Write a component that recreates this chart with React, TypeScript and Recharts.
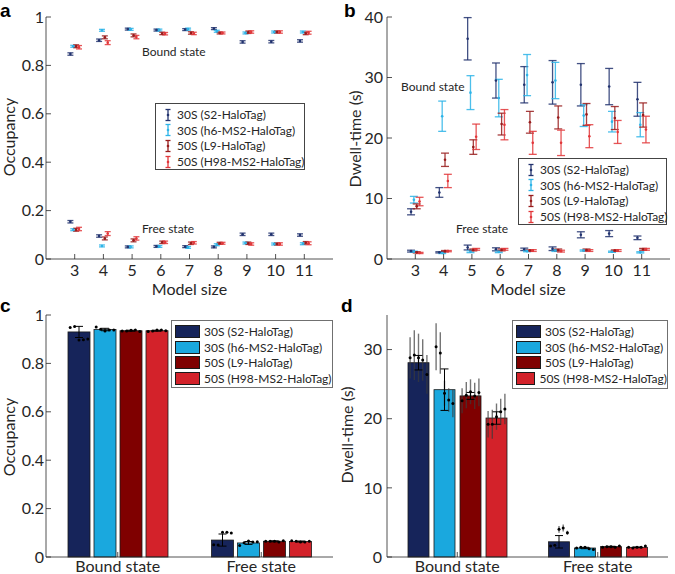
import React from 'react';
import { ScatterChart, Scatter, BarChart, Bar, XAxis, YAxis, ErrorBar } from 'recharts';

const FONT = 'Lato, "Open Sans", sans-serif';
const INK = '#262626';

const MODEL_SIZES = [3, 4, 5, 6, 7, 8, 9, 10, 11];
const STATES = ['Bound state', 'Free state'];
const SERIES_NAMES = ['30S (S2-HaloTag)', '30S (h6-MS2-HaloTag)', '50S (L9-HaloTag)', '50S (H98-MS2-HaloTag)'];
const POINT_COLORS = ['#22336f', '#2db4e8', '#981c1c', '#e2373a'];
const BAR_COLORS = ['#16245a', '#1aa8de', '#7f0000', '#d3222a'];
const OFFSETS = [-0.15, -0.05, 0.05, 0.15];

// panel a: occupancy per model size
const OCC_BOUND_S2 = [0.847, 0.904, 0.95, 0.946, 0.948, 0.952, 0.897, 0.898, 0.901];
const OCC_BOUND_H6 = [0.879, 0.945, 0.949, 0.946, 0.95, 0.941, 0.934, 0.938, 0.938];
const OCC_BOUND_L9 = [0.879, 0.916, 0.924, 0.932, 0.934, 0.934, 0.937, 0.938, 0.932];
const OCC_BOUND_H98 = [0.875, 0.894, 0.917, 0.931, 0.932, 0.934, 0.938, 0.938, 0.935];
const OCC_FREE_S2 = [0.154, 0.095, 0.05, 0.052, 0.051, 0.05, 0.102, 0.102, 0.099];
const OCC_FREE_H6 = [0.121, 0.054, 0.05, 0.052, 0.048, 0.059, 0.066, 0.062, 0.063];
const OCC_FREE_L9 = [0.121, 0.085, 0.077, 0.069, 0.065, 0.065, 0.065, 0.062, 0.067];
const OCC_FREE_H98 = [0.124, 0.105, 0.085, 0.069, 0.067, 0.065, 0.062, 0.062, 0.065];
const OCC_ERR_S2 = [0.005, 0.005, 0.004, 0.004, 0.004, 0.004, 0.005, 0.005, 0.005];
const OCC_ERR_H6 = [0.004, 0.004, 0.004, 0.004, 0.004, 0.004, 0.004, 0.004, 0.004];
const OCC_ERR_L9 = [0.006, 0.006, 0.006, 0.005, 0.005, 0.004, 0.005, 0.004, 0.005];
const OCC_ERR_H98 = [0.007, 0.008, 0.007, 0.005, 0.005, 0.004, 0.005, 0.005, 0.006];

// panel b: dwell-time per model size (s)
const DWELL_BOUND_S2 = [7.8, 11.0, 36.4, 29.5, 28.8, 29.2, 28.8, 28.5, 26.4];
const DWELL_BOUND_H6 = [9.8, 23.6, 27.5, 26.6, 30.4, 29.5, 23.7, 22.7, 22.2];
const DWELL_BOUND_L9 = [8.7, 16.4, 18.5, 22.3, 22.6, 23.4, 23.9, 23.3, 23.8];
const DWELL_BOUND_H98 = [9.5, 12.9, 20.2, 22.2, 19.2, 19.2, 20.3, 21.0, 21.4];
const DWELL_BOUND_ERR_S2 = [0.5, 0.8, 3.5, 2.9, 3.0, 3.6, 3.5, 3.0, 2.8];
const DWELL_BOUND_ERR_H6 = [0.55, 2.5, 2.8, 3.1, 3.4, 3.0, 1.8, 1.7, 2.0];
const DWELL_BOUND_ERR_L9 = [0.4, 1.1, 1.2, 1.8, 1.8, 1.9, 1.8, 1.9, 2.0];
const DWELL_BOUND_ERR_H98 = [0.7, 1.1, 2.1, 2.5, 1.9, 2.1, 1.9, 1.9, 2.2];
const DWELL_FREE_S2 = [1.3, 1.1, 1.9, 1.6, 1.6, 1.7, 4.0, 4.2, 3.5];
const DWELL_FREE_H6 = [1.2, 1.0, 1.2, 1.2, 1.3, 1.4, 1.4, 1.2, 1.1];
const DWELL_FREE_L9 = [1.1, 1.3, 1.5, 1.5, 1.4, 1.5, 1.5, 1.4, 1.6];
const DWELL_FREE_H98 = [1.0, 1.3, 1.6, 1.6, 1.4, 1.3, 1.4, 1.4, 1.6];
const DWELL_FREE_ERR_S2 = [0.15, 0.1, 0.4, 0.25, 0.2, 0.3, 0.5, 0.5, 0.3];
const DWELL_FREE_ERR_H6 = [0.1, 0.1, 0.15, 0.15, 0.1, 0.15, 0.1, 0.1, 0.1];
const DWELL_FREE_ERR_L9 = [0.1, 0.1, 0.15, 0.15, 0.1, 0.15, 0.15, 0.1, 0.15];
const DWELL_FREE_ERR_H98 = [0.1, 0.1, 0.15, 0.15, 0.15, 0.15, 0.15, 0.15, 0.15];

// panels c, d: averaged bars (Bound, Free)
const OCC_BAR_S2 = [0.93, 0.07];
const OCC_BAR_H6 = [0.94, 0.058];
const OCC_BAR_L9 = [0.935, 0.065];
const OCC_BAR_H98 = [0.935, 0.064];
const OCC_BAR_ERR_S2 = [0.023, 0.025];
const OCC_BAR_ERR_H6 = [0.005, 0.006];
const OCC_BAR_ERR_L9 = [0.002, 0.002];
const OCC_BAR_ERR_H98 = [0.002, 0.002];
const DWELL_BAR_S2 = [28.1, 2.2];
const DWELL_BAR_H6 = [24.2, 1.3];
const DWELL_BAR_L9 = [23.3, 1.5];
const DWELL_BAR_H98 = [20.1, 1.4];
const DWELL_BAR_ERR_S2 = [1.05, 0.9];
const DWELL_BAR_ERR_H6 = [3.0, 0.1];
const DWELL_BAR_ERR_L9 = [0.5, 0.05];
const DWELL_BAR_ERR_H98 = [0.9, 0.05];
const FIRST_AVERAGED = 4; // model sizes 7..11 go into the bars

const OCC_BOUND = [OCC_BOUND_S2, OCC_BOUND_H6, OCC_BOUND_L9, OCC_BOUND_H98];
const OCC_FREE = [OCC_FREE_S2, OCC_FREE_H6, OCC_FREE_L9, OCC_FREE_H98];
const OCC_ERR = [OCC_ERR_S2, OCC_ERR_H6, OCC_ERR_L9, OCC_ERR_H98];
const DWELL_BOUND = [DWELL_BOUND_S2, DWELL_BOUND_H6, DWELL_BOUND_L9, DWELL_BOUND_H98];
const DWELL_BOUND_ERR = [DWELL_BOUND_ERR_S2, DWELL_BOUND_ERR_H6, DWELL_BOUND_ERR_L9, DWELL_BOUND_ERR_H98];
const DWELL_FREE = [DWELL_FREE_S2, DWELL_FREE_H6, DWELL_FREE_L9, DWELL_FREE_H98];
const DWELL_FREE_ERR = [DWELL_FREE_ERR_S2, DWELL_FREE_ERR_H6, DWELL_FREE_ERR_L9, DWELL_FREE_ERR_H98];
const OCC_BAR = [OCC_BAR_S2, OCC_BAR_H6, OCC_BAR_L9, OCC_BAR_H98];
const OCC_BAR_ERR = [OCC_BAR_ERR_S2, OCC_BAR_ERR_H6, OCC_BAR_ERR_L9, OCC_BAR_ERR_H98];
const DWELL_BAR = [DWELL_BAR_S2, DWELL_BAR_H6, DWELL_BAR_L9, DWELL_BAR_H98];
const DWELL_BAR_ERR = [DWELL_BAR_ERR_S2, DWELL_BAR_ERR_H6, DWELL_BAR_ERR_L9, DWELL_BAR_ERR_H98];

const OCC_TICKS = [0, 0.2, 0.4, 0.6, 0.8, 1];
const DWELL_LINE_TICKS = [0, 10, 20, 30, 40];
const DWELL_BAR_TICKS = [0, 10, 20, 30];

const tickStyle = { fill: INK, fontSize: 16, fontFamily: FONT };
const axisLine = { stroke: INK, strokeWidth: 0.8 };

function scatterRows(i: number, bound: number[][], boundErr: number[][], free: number[][], freeErr: number[][]) {
  return MODEL_SIZES.flatMap((m, k) => [
    { x: m + OFFSETS[i], y: bound[i][k], e: boundErr[i][k] },
    { x: m + OFFSETS[i], y: free[i][k], e: freeErr[i][k] },
  ]);
}

function barRows(vals: number[][], errs: number[][]) {
  return STATES.map((s, k) => {
    const row: Record<string, string | number> = { state: s };
    vals.forEach((v, i) => {
      row['v' + i] = v[k];
      row['e' + i] = errs[i][k];
    });
    return row;
  });
}

function ModelPanel({ left, yWidth, rightMargin, ticks, domain, rows, capWidth }: any) {
  return (
    <div style={{ position: 'absolute', left, top: 0 }}>
      <ScatterChart width={340} height={300} margin={{ top: 17, right: rightMargin, bottom: 0, left: 0 }} style={{ fontFamily: FONT }}>
        <XAxis type="number" dataKey="x" domain={[2, 12]} ticks={MODEL_SIZES} height={41} tickSize={-5} tickMargin={11}
          tick={tickStyle} axisLine={axisLine} tickLine={axisLine} interval={0} />
        <XAxis xAxisId="top" orientation="top" type="number" dataKey="x" domain={[2, 12]} ticks={MODEL_SIZES} height={0}
          tickSize={-5} tick={false} axisLine={axisLine} tickLine={axisLine} />
        <YAxis type="number" dataKey="y" domain={domain} ticks={ticks} width={yWidth} tickSize={-5}
          tickMargin={yWidth === 46 ? 7 : 9} tick={tickStyle} axisLine={axisLine} tickLine={axisLine} interval={0} />
        <YAxis yAxisId="right" orientation="right" type="number" dataKey="y" domain={domain} ticks={ticks} width={0}
          tickSize={-5} tick={false} axisLine={axisLine} tickLine={axisLine} />
        {rows.map((data: any[], i: number) => (
          <Scatter key={i} data={data} isAnimationActive={false}
            shape={(p: any) => <circle cx={p.cx} cy={p.cy} r={1.3} fill={POINT_COLORS[i]} />}>
            <ErrorBar dataKey="e" direction="y" width={capWidth} stroke={POINT_COLORS[i]} strokeWidth={1.3} strokeOpacity={0.85} />
          </Scatter>
        ))}
      </ScatterChart>
    </div>
  );
}

function DotBar(props: any) {
  const { x, y, width, height, fill, payload, valueKey, dots, errs } = props;
  const v = payload[valueKey];
  const toY = (d: number) => y + height - (d / v) * height;
  const n = dots.length;
  const cx = (j: number) => x + (width * (j + 0.5)) / n;
  return (
    <g>
      <rect x={x} y={y} width={width} height={height} fill={fill} stroke="#1a1a1a" strokeWidth={0.8} />
      {errs &&
        dots.map((d: number, j: number) => (
          <line key={'e' + j} x1={cx(j)} x2={cx(j)} y1={toY(d - errs[j])} y2={toY(d + errs[j])}
            stroke="#3a3a3a" strokeOpacity={0.7} strokeWidth={1.4} />
        ))}
      {dots.map((d: number, j: number) => (
        <circle key={j} cx={cx(j)} cy={toY(d)} r={1.5} fill="#000" />
      ))}
    </g>
  );
}

function BarPanel({ left, yWidth, tickMargin, ticks, domain, data, dots, dotErrs, barSize, barGap }: any) {
  return (
    <div style={{ position: 'absolute', left, top: 290 }}>
      <BarChart width={340} height={284} data={data} margin={{ top: 25, right: 7, bottom: 0, left: 0 }}
        barSize={barSize} barGap={barGap} style={{ fontFamily: FONT }}>
        <XAxis dataKey="state" height={17} tickSize={-5} tickMargin={9} tick={tickStyle} axisLine={axisLine} tickLine={axisLine} />
        <XAxis xAxisId="top" orientation="top" dataKey="state" height={0} tickSize={-5} tick={false} axisLine={axisLine} tickLine={axisLine} />
        <YAxis domain={domain} ticks={ticks} width={yWidth} tickSize={-5} tickMargin={tickMargin} tick={tickStyle}
          axisLine={axisLine} tickLine={axisLine} interval={0} />
        <YAxis yAxisId="right" orientation="right" domain={domain} ticks={ticks} width={0} tickSize={-5} tick={false}
          axisLine={axisLine} tickLine={axisLine} />
        {BAR_COLORS.map((c, i) => (
          <Bar key={i} dataKey={'v' + i} fill={c} isAnimationActive={false}
            shape={(p: any) => (
              <DotBar {...p} valueKey={'v' + i}
                dots={dots[p.index][i]}
                errs={dotErrs ? dotErrs[p.index][i] : null} />
            )}>
            <ErrorBar dataKey={'e' + i} direction="y" width={4} stroke="#000" strokeWidth={1} />
          </Bar>
        ))}
      </BarChart>
    </div>
  );
}

function ErrorIcon({ color }: { color: string }) {
  return (
    <svg width={8} height={14} style={{ display: 'block' }}>
      <line x1={4} x2={4} y1={1.5} y2={12.5} stroke={color} strokeWidth={1.3} />
      <line x1={1.5} x2={6.5} y1={1.5} y2={1.5} stroke={color} strokeWidth={1.3} />
      <line x1={1.5} x2={6.5} y1={12.5} y2={12.5} stroke={color} strokeWidth={1.3} />
      <circle cx={4} cy={7} r={1.3} fill={color} />
    </svg>
  );
}

function LegendBox({ left, top, width, height, swatch, border }: any) {
  return (
    <div style={{ position: 'absolute', left, top, width, height, boxSizing: 'border-box', border, background: '#fff',
      paddingTop: 3, fontFamily: FONT, fontSize: 12, color: INK }}>
      {SERIES_NAMES.map((name, i) => (
        <div key={name} style={{ display: 'flex', alignItems: 'center', height: 15.6 }}>
          {swatch ? (
            <div style={{ width: 25, height: 13, background: BAR_COLORS[i], border: '1px solid #1a1a1a', boxSizing: 'border-box', marginLeft: 3, marginRight: 4 }} />
          ) : (
            <div style={{ marginLeft: 8, marginRight: 5 }}><ErrorIcon color={POINT_COLORS[i]} /></div>
          )}
          <span style={{ whiteSpace: 'nowrap' }}>{name}</span>
        </div>
      ))}
    </div>
  );
}

function Txt({ x, y, children, size = 12, rotate = false, center = false, bold = false, family = FONT }: any) {
  let transform: string | undefined;
  if (rotate) transform = 'translate(-50%, -50%) rotate(-90deg)';
  else if (center) transform = 'translateX(-50%)';
  return (
    <div style={{ position: 'absolute', left: x, top: y, fontFamily: family, fontSize: size, lineHeight: 1,
      fontWeight: bold ? 700 : 400, color: bold ? '#000' : INK, whiteSpace: 'nowrap', transform }}>
      {children}
    </div>
  );
}

export default function App() {
  const occRows = OCC_BOUND.map((_, i) => scatterRows(i, OCC_BOUND, OCC_ERR, OCC_FREE, OCC_ERR));
  const dwellRows = DWELL_BOUND.map((_, i) => scatterRows(i, DWELL_BOUND, DWELL_BOUND_ERR, DWELL_FREE, DWELL_FREE_ERR));
  const occDots = [OCC_BOUND.map((s) => s.slice(FIRST_AVERAGED)), OCC_FREE.map((s) => s.slice(FIRST_AVERAGED))];
  const dwellDots = [DWELL_BOUND.map((s) => s.slice(FIRST_AVERAGED)), DWELL_FREE.map((s) => s.slice(FIRST_AVERAGED))];
  const dwellDotErrs = [DWELL_BOUND_ERR.map((s) => s.slice(FIRST_AVERAGED)), DWELL_FREE_ERR.map((s) => s.slice(FIRST_AVERAGED))];
  const LABEL_FONT = '"Liberation Sans", Arial, sans-serif';

  return (
    <div style={{ position: 'absolute', left: 0, top: 0, width: 675, height: 574, background: '#fff', overflow: 'hidden' }}>
      <ModelPanel left={0} yWidth={46} rightMargin={7} ticks={OCC_TICKS} domain={[0, 1]} rows={occRows} capWidth={3} />
      <ModelPanel left={335} yWidth={52} rightMargin={5} ticks={DWELL_LINE_TICKS} domain={[0, 40]} rows={dwellRows} capWidth={4} />
      <BarPanel left={0} yWidth={46} tickMargin={7} ticks={OCC_TICKS} domain={[0, 1]} data={barRows(OCC_BAR, OCC_BAR_ERR)}
        dots={occDots} dotErrs={null} barSize={22} barGap={4} />
      <BarPanel left={335} yWidth={52} tickMargin={10} ticks={DWELL_BAR_TICKS} domain={[0, 35]} data={barRows(DWELL_BAR, DWELL_BAR_ERR)}
        dots={dwellDots} dotErrs={dwellDotErrs} barSize={21} barGap={5} />

      <LegendBox left={155} top={103} width={150} height={67} border="1.3px solid #444" />
      <LegendBox left={518} top={158} width={149} height={67} border="1.3px solid #444" />
      <LegendBox left={171} top={320} width={162} height={68} border="1.6px solid #707070" swatch />
      <LegendBox left={512} top={320} width={156} height={69} border="1.6px solid #707070" swatch />

      <Txt x={142} y={46}>Bound state</Txt>
      <Txt x={142} y={223}>Free state</Txt>
      <Txt x={401} y={81}>Bound state</Txt>
      <Txt x={456} y={223}>Free state</Txt>

      <Txt x={9} y={137} size={16} rotate>Occupancy</Txt>
      <Txt x={355} y={139} size={16} rotate>Dwell-time (s)</Txt>
      <Txt x={9} y={437} size={16} rotate>Occupancy</Txt>
      <Txt x={347} y={435} size={16} rotate>Dwell-time (s)</Txt>
      <Txt x={189.5} y={281} size={16} center>Model size</Txt>
      <Txt x={528} y={281} size={16} center>Model size</Txt>

      <Txt x={0} y={1} size={19} bold family={LABEL_FONT}>a</Txt>
      <Txt x={344} y={1} size={19} bold family={LABEL_FONT}>b</Txt>
      <Txt x={0} y={296} size={19} bold family={LABEL_FONT}>c</Txt>
      <Txt x={341} y={296} size={19} bold family={LABEL_FONT}>d</Txt>
    </div>
  );
}
